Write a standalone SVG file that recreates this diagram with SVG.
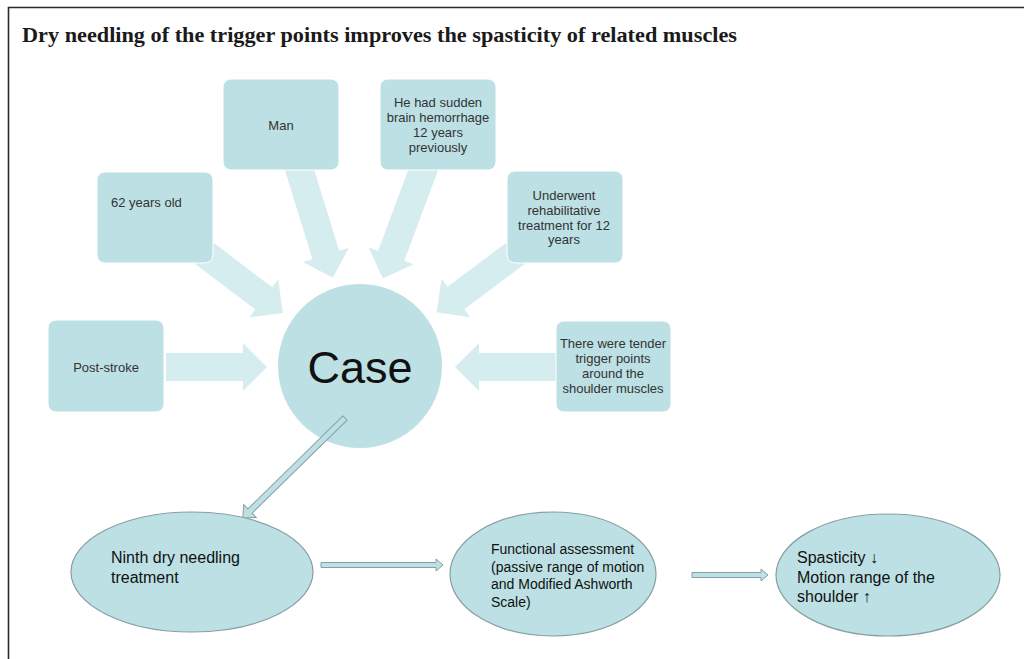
<svg xmlns="http://www.w3.org/2000/svg" width="1024" height="659" viewBox="0 0 1024 659">
<style>
.box{fill:#bce0e3;stroke:#ffffff;stroke-width:1}
.big{fill:#d6edef}
.ell{fill:#bce0e3;stroke:#869fa2;stroke-width:1.2}
.thin{fill:#bce0e3;stroke:#869fa2;stroke-width:1}
.t{font-family:"Liberation Sans",Arial,sans-serif;font-size:13px;fill:#333333}
.tc{text-anchor:middle}
.b{font-family:"Liberation Sans",Arial,sans-serif;fill:#111111}
</style>
<rect width="1024" height="659" fill="#ffffff"/>
<path d="M8.5,659 V7.5 H1024" fill="none" stroke="#2a2a2a" stroke-width="1.6"/>
<text x="22" y="42" font-family="'Liberation Serif','Times New Roman',serif" font-weight="bold" font-size="22" fill="#1a1a1a" textLength="715" lengthAdjust="spacingAndGlyphs">Dry needling of the trigger points improves the spasticity of related muscles</text>

<g id="connectors">
  <path class="big" transform="translate(166,367)" d="M0,-14 H77 V-24 L101,0 L77,24 V14 H0 Z"/>
  <path class="big" transform="translate(556,367) rotate(180)" d="M0,-14 H77 V-24 L101,0 L77,24 V14 H0 Z"/>
  <path class="big" transform="translate(200,250) rotate(37.2)" d="M0,-14 H80 V-24 L104,0 L80,24 V14 H0 Z"/>
  <path class="big" transform="translate(298,165) rotate(72.8)" d="M0,-14 H94 V-24 L118,0 L94,24 V14 H0 Z"/>
  <path class="big" transform="translate(425,165) rotate(110.4)" d="M0,-14 H97 V-24 L121,0 L97,24 V14 H0 Z"/>
  <path class="big" transform="translate(520,250) rotate(143.2)" d="M0,-14 H80 V-24 L104,0 L80,24 V14 H0 Z"/>
</g>

<g id="node-man"><rect class="box" x="223" y="79" width="116" height="91" rx="8"/><text class="t tc" x="281" y="130">Man</text></g>
<g id="node-hemorrhage"><rect class="box" x="380" y="79" width="116" height="91" rx="8"/>
<text class="t tc" x="438" y="107">He had sudden</text><text class="t tc" x="438" y="122">brain hemorrhage</text><text class="t tc" x="438" y="137">12 years</text><text class="t tc" x="438" y="152">previously</text></g>
<g id="node-age"><rect class="box" x="97" y="172" width="116" height="91" rx="8"/><text class="t" x="111" y="207">62 years old</text></g>
<g id="node-rehab"><rect class="box" x="507" y="171" width="116" height="92" rx="8"/>
<text class="t tc" x="564" y="200">Underwent</text><text class="t tc" x="564" y="215">rehabilitative</text><text class="t tc" x="564" y="230">treatment for 12</text><text class="t tc" x="564" y="244">years</text></g>
<g id="node-poststroke"><rect class="box" x="48" y="320" width="116" height="92" rx="8"/><text class="t tc" x="106" y="372">Post-stroke</text></g>
<g id="node-trigger"><rect class="box" x="556" y="321" width="115" height="91" rx="8"/>
<text class="t tc" x="613" y="348">There were tender</text><text class="t tc" x="613" y="363">trigger points</text><text class="t tc" x="613" y="378">around the</text><text class="t tc" x="613" y="393">shoulder muscles</text></g>

<g id="node-case"><circle cx="360" cy="366" r="82" fill="#bce0e3"/><text class="b" x="360" y="383" font-size="45" text-anchor="middle">Case</text></g>

<g id="connectors-bottom">
  <path class="thin" transform="translate(345,418) rotate(135.6)" d="M0,-3 H133 V-9 L143,0 L133,9 V3 H0 Z"/>
  <path class="thin" transform="translate(321,565)" d="M0,-2.5 H115 V-6 L122,0 L115,6 V2.5 H0 Z"/>
  <path class="thin" transform="translate(692,575)" d="M0,-2.5 H69 V-6 L76,0 L69,6 V2.5 H0 Z"/>
</g>

<g id="node-ninth"><ellipse class="ell" cx="192" cy="572" rx="121" ry="60"/>
<text class="b" x="111" y="563" font-size="16">Ninth dry needling</text><text class="b" x="111" y="583" font-size="16">treatment</text></g>
<g id="node-functional"><ellipse class="ell" cx="553" cy="574" rx="103" ry="62"/>
<text class="b" x="491" y="554" font-size="14">Functional assessment</text><text class="b" x="491" y="572" font-size="14">(passive range of motion</text><text class="b" x="491" y="589" font-size="14">and Modified Ashworth</text><text class="b" x="491" y="607" font-size="14">Scale)</text></g>
<g id="node-result"><ellipse class="ell" cx="888" cy="575" rx="112" ry="61"/>
<text class="b" x="797" y="563" font-size="16">Spasticity  ↓</text><text class="b" x="797" y="583" font-size="16">Motion range of the</text><text class="b" x="797" y="602" font-size="16">shoulder ↑</text></g>
</svg>
